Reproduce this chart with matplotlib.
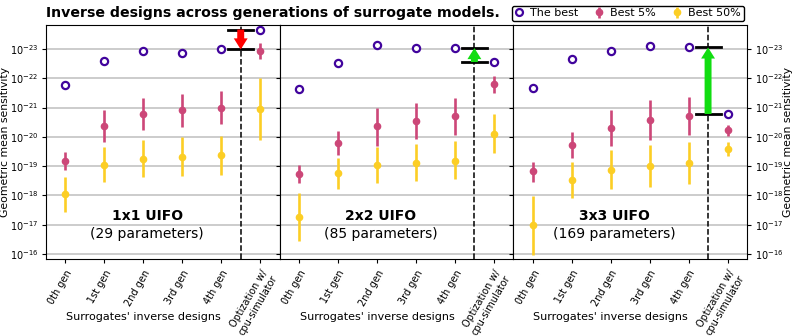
import matplotlib
matplotlib.use('Agg')
import matplotlib.pyplot as plt
import matplotlib.transforms as mtransforms
import numpy as np

# log10 of geometric mean sensitivity
gens = ['0th gen', '1st gen', '2nd gen', '3rd gen', '4th gen', 'Optization w/\ncpu-simulator']
panels = ['1x1 UIFO', '2x2 UIFO', '3x3 UIFO']
params = ['(29 parameters)', '(85 parameters)', '(169 parameters)']

best_1x1 = [-21.77, -22.58, -22.94, -22.85, -22.98, -23.66]
best_2x2 = [-21.63, -22.53, -23.12, -23.03, -23.03, -22.55]
best_3x3 = [-21.66, -22.66, -22.94, -23.10, -23.05, -20.78]

top5_1x1 = [-19.18, -20.36, -20.78, -20.91, -21.00, -22.94]
top5_lo_1x1 = [-19.48, -20.90, -21.34, -21.45, -21.57, -23.21]
top5_hi_1x1 = [-18.87, -19.81, -20.24, -20.35, -20.44, -22.67]
top5_2x2 = [-18.72, -19.79, -20.36, -20.55, -20.72, -21.80]
top5_lo_2x2 = [-19.05, -20.20, -20.97, -21.16, -21.33, -22.06]
top5_hi_2x2 = [-18.44, -19.37, -19.70, -19.91, -20.07, -21.50]
top5_3x3 = [-18.82, -19.73, -20.30, -20.59, -20.71, -20.23]
top5_lo_3x3 = [-19.15, -20.16, -20.92, -21.26, -21.35, -20.41]
top5_hi_3x3 = [-18.45, -19.29, -19.69, -19.90, -20.06, -20.04]

top50_1x1 = [-18.06, -19.05, -19.25, -19.31, -19.37, -20.95]
top50_lo_1x1 = [-18.64, -19.67, -19.90, -19.99, -20.03, -22.00]
top50_hi_1x1 = [-17.45, -18.47, -18.62, -18.68, -18.70, -19.90]
top50_2x2 = [-17.25, -18.75, -19.04, -19.12, -19.19, -20.11]
top50_lo_2x2 = [-18.07, -19.27, -19.65, -19.77, -19.86, -20.78]
top50_hi_2x2 = [-16.45, -18.23, -18.42, -18.49, -18.55, -19.44]
top50_3x3 = [-16.98, -18.53, -18.88, -19.00, -19.10, -19.60]
top50_lo_3x3 = [-17.98, -19.14, -19.55, -19.72, -19.84, -19.84]
top50_hi_3x3 = [-15.96, -17.92, -18.21, -18.30, -18.39, -19.33]

best = [best_1x1, best_2x2, best_3x3]
top5 = [(top5_1x1, top5_lo_1x1, top5_hi_1x1), (top5_2x2, top5_lo_2x2, top5_hi_2x2),
        (top5_3x3, top5_lo_3x3, top5_hi_3x3)]
top50 = [(top50_1x1, top50_lo_1x1, top50_hi_1x1), (top50_2x2, top50_lo_2x2, top50_hi_2x2),
         (top50_3x3, top50_lo_3x3, top50_hi_3x3)]

c_best = '#41049d'
c_5 = '#cc4778'
c_50 = '#fcce25'

fig, axes = plt.subplots(1, 3, sharey=True, figsize=(7.93, 3.36), dpi=100)
fig.subplots_adjust(left=0.058, right=0.942, bottom=0.229, top=0.926, wspace=0)

x = np.arange(len(gens))
for i, ax in enumerate(axes):
    ax.set_yscale('log')
    ax.grid(axis='y', color='#cccccc', linewidth=1.4, zorder=0)
    ax.set_axisbelow(True)

    for (vals, lo, hi), col in [(top50[i], c_50), (top5[i], c_5)]:
        v = 10.0 ** np.array(vals)
        err = np.vstack([v - 10.0 ** np.array(lo), 10.0 ** np.array(hi) - v])
        ax.errorbar(x, v, yerr=err, fmt='o', color=col, ms=4.5, elinewidth=1.9, capsize=0, zorder=3)
    ax.plot(x, 10.0 ** np.array(best[i]), 'o', mfc='white', mec=c_best, mew=1.6, ms=5.2, zorder=4)

    ax.axvline(4.5, color='black', linestyle='--', linewidth=1.1, zorder=2)

    # improvement arrow: from optimizer's best to the 4th gen best
    y_opt = 10.0 ** best[i][5]
    y_sur = 10.0 ** best[i][4]
    col = 'red' if y_opt < y_sur else '#11dd11'
    for yy in (y_opt, y_sur):
        ax.plot([4.5 - 0.32, 4.5 + 0.32], [yy, yy], color='black', linewidth=2, zorder=5)
    ax.annotate('', xy=(4.5, y_sur), xytext=(4.5, y_opt),
                arrowprops=dict(width=5, headwidth=10, headlength=8, shrink=0, color=col, lw=0),
                zorder=6)

    ax.text(2.1, 10 ** -17.3, panels[i], ha='center', va='center', fontsize=10, fontweight='bold')
    ax.text(2.1, 10 ** -16.7, params[i], ha='center', va='center', fontsize=10)

    ax.set_xlim(-0.5, 5.5)
    ax.set_xticks(x)
    ax.set_xticklabels(gens, rotation=60, ha='right', rotation_mode='anchor', fontsize=7)
    trans = mtransforms.blended_transform_factory(ax.transData, fig.transFigure)
    ax.text(2, 0.057, "Surrogates' inverse designs", transform=trans, ha='center', va='center', fontsize=8)
    ax.tick_params(axis='y', labelsize=7, length=3, pad=2.5)
    ax.tick_params(axis='x', length=3)

axes[0].set_ylim(10 ** -15.83, 10 ** -23.82)
axes[0].set_yticks([10.0 ** k for k in range(-23, -15)])
for ax in axes:
    ax.yaxis.set_minor_locator(matplotlib.ticker.NullLocator())
axes[0].set_ylabel('Geometric mean sensitivity', fontsize=7.8)
axes[0].yaxis.set_label_coords(-0.152, 0.5)
axes[2].yaxis.set_tick_params(labelright=True, right=True)
axes[2].yaxis.set_label_position('right')
axes[2].set_ylabel('Geometric mean sensitivity', fontsize=7.8)
axes[2].yaxis.set_label_coords(1.152, 0.5)

# legend
h1, = axes[0].plot([], [], 'o', mfc='white', mec=c_best, mew=1.6, ms=5)
h2 = axes[0].errorbar([], [], yerr=[], fmt='o', color=c_5, ms=4.5, elinewidth=1.9)
h3 = axes[0].errorbar([], [], yerr=[], fmt='o', color=c_50, ms=4.5, elinewidth=1.9)
fig.legend([h1, h2, h3], ['The best', 'Best 5%', 'Best 50%'], ncol=3, loc='upper right',
           bbox_to_anchor=(0.945, 1.0), fontsize=8, frameon=True, edgecolor='black',
           handlelength=0.8, handletextpad=0.6, columnspacing=1.5, borderpad=0.25,
           fancybox=True, framealpha=1)

fig.text(0.344, 0.962, 'Inverse designs across generations of surrogate models.', ha='center',
         va='center', fontsize=10.2, fontweight='bold')

fig.savefig('out.png', dpi=100)
